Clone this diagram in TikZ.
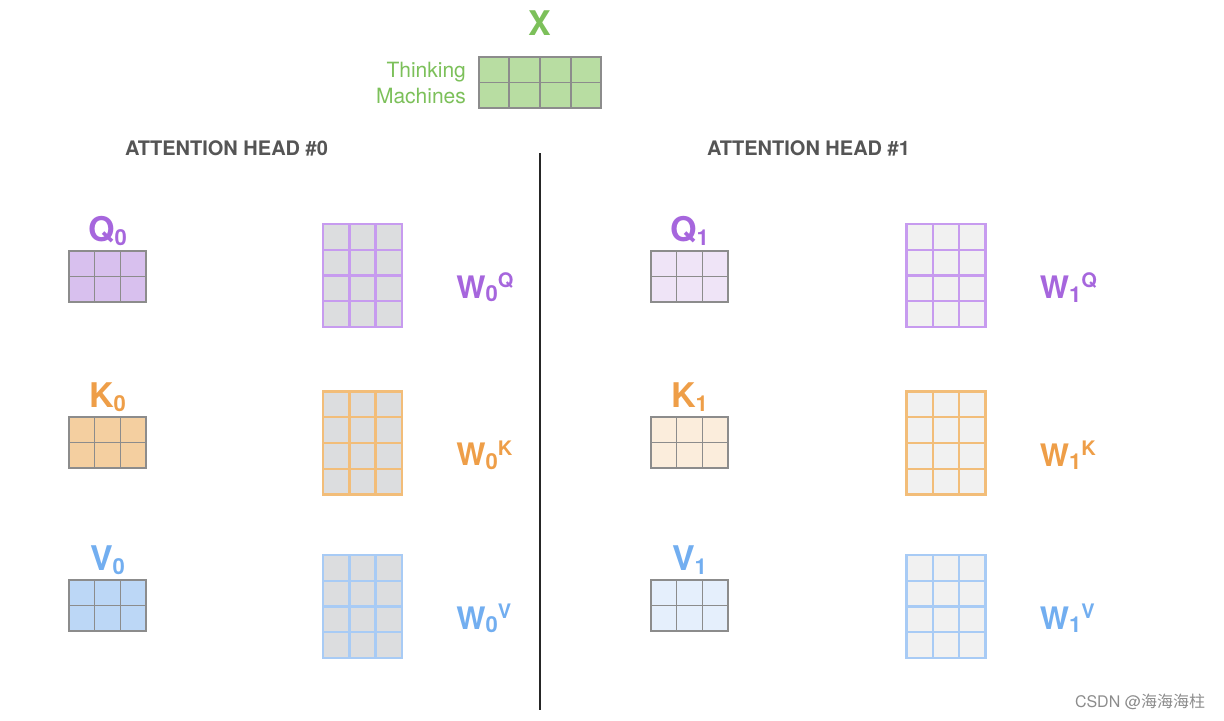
\documentclass[tikz,border=0pt]{standalone}
\usepackage{fontspec}
\setmainfont{TeX Gyre Heros}
\newfontfamily\cjkfont{Noto Sans CJK SC}
\usetikzlibrary{calc,positioning}

\definecolor{xgreen}{HTML}{7CC05A}
\definecolor{xfill}{HTML}{B8DDA2}
\definecolor{qlbl}{HTML}{A666DD}
\definecolor{qfillA}{HTML}{D8C0EE}
\definecolor{qfillB}{HTML}{EFE4F7}
\definecolor{qline}{HTML}{C79BEF}
\definecolor{klbl}{HTML}{EE9E48}
\definecolor{kfillA}{HTML}{F4CFA0}
\definecolor{kfillB}{HTML}{FBEDDC}
\definecolor{kline}{HTML}{F2BD79}
\definecolor{vlbl}{HTML}{72AEF0}
\definecolor{vfillA}{HTML}{BCD7F6}
\definecolor{vfillB}{HTML}{E5EFFC}
\definecolor{vline}{HTML}{A8CBF5}
\definecolor{wfillA}{HTML}{DCDDDF}
\definecolor{wfillB}{HTML}{F1F1F1}
\definecolor{cellgray}{HTML}{8C8C8C}
\definecolor{headgray}{HTML}{555555}

% inner lines of a matrix node: node, columns, rows, line style
\newcommand{\drawcells}[4]{%
  \pgfmathtruncatemacro{\lastc}{#2-1}%
  \pgfmathtruncatemacro{\lastr}{#3-1}%
  \foreach \i in {1,...,\lastc}
    \draw[#4] ($(#1.north west)!\i/#2!(#1.north east)$) -- ($(#1.south west)!\i/#2!(#1.south east)$);
  \foreach \j in {1,...,\lastr}
    \draw[#4] ($(#1.north west)!\j/#3!(#1.south west)$) -- ($(#1.north east)!\j/#3!(#1.south east)$);
}
\newcommand{\lsub}[1]{\raisebox{-0.2ex}{\fontsize{11}{11}\selectfont #1}}
\newcommand{\lsup}[1]{\raisebox{0.65ex}{\fontsize{10}{10}\selectfont #1}}

\tikzset{
  small/.style={draw=cellgray, line width=0.7pt, inner sep=0pt, outer sep=0pt,
    minimum width=38.5pt, minimum height=25.5pt},
  weight/.style={line width=1.2pt, inner sep=0pt, outer sep=0pt,
    minimum width=39.5pt, minimum height=51.5pt},
  mlbl/.style={inner sep=0pt, font=\fontsize{17}{17}\selectfont\bfseries},
  wlbl/.style={inner sep=0pt, yshift=-6pt, font=\fontsize{15.5}{15.5}\selectfont\bfseries},
  head/.style={inner sep=0pt, text=headgray, font=\fontsize{10}{10}\selectfont\bfseries},
}

\begin{document}
\begin{tikzpicture}[x=0.5pt, y=-0.5pt]
\useasboundingbox (0,0) rectangle (1224,720);

% input
\node[draw=cellgray, fill=xfill, line width=0.7pt, inner sep=0pt, minimum width=61pt, minimum height=25.5pt]
  (x0) at (540,82.5) {};
\drawcells{x0}{4}{2}{cellgray, line width=0.7pt}
\node[mlbl, text=xgreen, above=10pt of x0] (xlbl) {X};
\node[left=6pt of x0, inner sep=0pt, align=right, text=xgreen, font=\fontsize{10.5}{13}\selectfont]
  (words) {Thinking\\Machines};

% heads
\node[head] (head0) at (226.5,148) {ATTENTION HEAD \#0};
\node[head] (head1) at (808.5,148) {ATTENTION HEAD \#1};
\coordinate (divtop) at (540,153);
\coordinate (divbot) at (540,710);
\draw[line width=1pt, black!85] (divtop) -- (divbot);

% head 0
\node[small, fill=qfillA] (q0) at (107.5,276.5) {};
\node[small, fill=kfillA] (k0) at (107.5,442.5) {};
\node[small, fill=vfillA] (v0) at (107.5,605.5) {};
\node[weight, draw=qline, fill=wfillA] (wq0) at (362.5,275.5) {};
\node[weight, draw=kline, fill=wfillA] (wk0) at (362.5,443) {};
\node[weight, draw=vline, fill=wfillA] (wv0) at (362.5,606.5) {};

% head 1
\node[small, fill=qfillB] (q1) at (689.5,276.5) {};
\node[small, fill=kfillB] (k1) at (689.5,442.5) {};
\node[small, fill=vfillB] (v1) at (689.5,605.5) {};
\node[weight, draw=qline, fill=wfillB] (wq1) at (946,275.5) {};
\node[weight, draw=kline, fill=wfillB] (wk1) at (946,443) {};
\node[weight, draw=vline, fill=wfillB] (wv1) at (946,606.5) {};

\foreach \m in {q0,k0,v0,q1,k1,v1}
  {\drawcells{\m}{3}{2}{cellgray, line width=0.7pt}}
\drawcells{wq0}{3}{4}{qline, line width=1.2pt}
\drawcells{wk0}{3}{4}{kline, line width=1.2pt}
\drawcells{wv0}{3}{4}{vline, line width=1.2pt}
\drawcells{wq1}{3}{4}{qline, line width=1.2pt}
\drawcells{wk1}{3}{4}{kline, line width=1.2pt}
\drawcells{wv1}{3}{4}{vline, line width=1.2pt}

% labels
\node[mlbl, text=qlbl, above=2.5pt of q0] (q0lbl) {Q\lsub{0}};
\node[mlbl, text=klbl, above=2.5pt of k0] (k0lbl) {K\lsub{0}};
\node[mlbl, text=vlbl, above=2.5pt of v0] (v0lbl) {V\lsub{0}};
\node[mlbl, text=qlbl, above=2.5pt of q1] (q1lbl) {Q\lsub{1}};
\node[mlbl, text=klbl, above=2.5pt of k1] (k1lbl) {K\lsub{1}};
\node[mlbl, text=vlbl, above=2.5pt of v1] (v1lbl) {V\lsub{1}};
\node[wlbl, text=qlbl, right=27pt of wq0] (wq0lbl) {W\lsub{0}\lsup{Q}};
\node[wlbl, text=klbl, right=27pt of wk0] (wk0lbl) {W\lsub{0}\lsup{K}};
\node[wlbl, text=vlbl, right=27pt of wv0] (wv0lbl) {W\lsub{0}\lsup{V}};
\node[wlbl, text=qlbl, right=27pt of wq1] (wq1lbl) {W\lsub{1}\lsup{Q}};
\node[wlbl, text=klbl, right=27pt of wk1] (wk1lbl) {W\lsub{1}\lsup{K}};
\node[wlbl, text=vlbl, right=27pt of wv1] (wv1lbl) {W\lsub{1}\lsup{V}};

% watermark
\node[inner sep=0pt, text=black!45, font=\fontsize{8}{8}\selectfont] (mark) at (1140,702)
  {CSDN @{\cjkfont 海海海柱}};
\end{tikzpicture}
\end{document}
